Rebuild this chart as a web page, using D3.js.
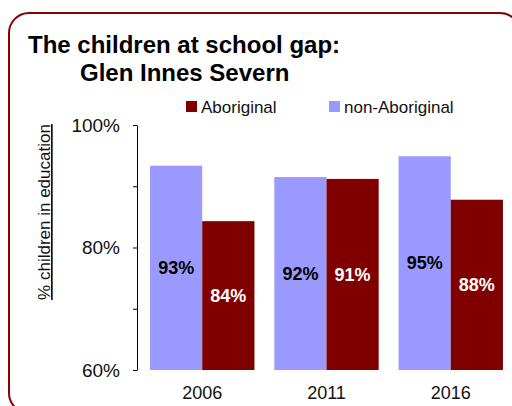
<!DOCTYPE html>
<html>
<head>
<meta charset="utf-8">
<script src="https://cdn.jsdelivr.net/npm/d3@7"></script>
<style>
  body { margin: 0; background: #fff; }
  svg { display: block; font-family: "Liberation Sans", Arial, sans-serif; }
</style>
</head>
<body>
<script>
// data
var years = ["2006", "2011", "2016"];
var groups = ["non-Aboriginal", "Aboriginal"];
var nonAboriginal = [93.35, 91.5, 94.9];
var aboriginal = [84.3, 91.2, 87.8];
var shownLabels = {
  "non-Aboriginal": ["93%", "92%", "95%"],
  "Aboriginal": ["84%", "91%", "88%"]
};
var yTicks = [60, 70, 80, 90, 100];

var colors = { "non-Aboriginal": "#9999ff", "Aboriginal": "#800000" };
var labelColors = { "non-Aboriginal": "#000", "Aboriginal": "#fff" };

var width = 512, height = 406;

var svg = d3.select("body").append("svg")
    .attr("width", width)
    .attr("height", height);

// frame
svg.append("rect")
    .attr("x", 9).attr("y", 13)
    .attr("width", 511).attr("height", 400)
    .attr("rx", 20).attr("ry", 20)
    .attr("fill", "none")
    .attr("stroke", "#8b0000")
    .attr("stroke-width", 2);

// title
svg.append("text")
    .attr("x", 28).attr("y", 53)
    .style("font-size", "24px").style("font-weight", "bold")
    .text("The children at school gap:");
svg.append("text")
    .attr("x", 80).attr("y", 81)
    .style("font-size", "24px").style("font-weight", "bold")
    .text("Glen Innes Severn");

// scales
var y = d3.scaleLinear().domain([60, 100]).range([370, 125]);
var x0 = d3.scaleBand().domain(years).range([137, 516])
    .paddingInner(0.16).paddingOuter(0.105);
var x1 = d3.scaleBand().domain(groups).range([0, x0.bandwidth()]);

var rows = years.map(function(yr, i) {
  return { year: yr, values: [
    { key: "non-Aboriginal", value: nonAboriginal[i], label: shownLabels["non-Aboriginal"][i] },
    { key: "Aboriginal", value: aboriginal[i], label: shownLabels["Aboriginal"][i] }
  ]};
});

var g = svg.selectAll(".year")
    .data(rows)
  .enter().append("g")
    .attr("class", "year")
    .attr("transform", function(d) { return "translate(" + x0(d.year) + ",0)"; });

g.selectAll("rect")
    .data(function(d) { return d.values; })
  .enter().append("rect")
    .attr("x", function(d) { return x1(d.key); })
    .attr("y", function(d) { return y(d.value); })
    .attr("width", x1.bandwidth())
    .attr("height", function(d) { return y(60) - y(d.value); })
    .attr("fill", function(d) { return colors[d.key]; });

g.selectAll("text.val")
    .data(function(d) { return d.values; })
  .enter().append("text")
    .attr("class", "val")
    .attr("x", function(d) { return x1(d.key) + x1.bandwidth() / 2; })
    .attr("y", function(d) { return (y(d.value) + y(60)) / 2; })
    .attr("dy", "0.35em")
    .attr("text-anchor", "middle")
    .style("font-size", "18px").style("font-weight", "bold")
    .attr("fill", function(d) { return labelColors[d.key]; })
    .text(function(d) { return d.label; });

// y axis
var yAxis = svg.append("g")
    .attr("transform", "translate(137,0)")
    .call(d3.axisLeft(y).tickValues(yTicks).tickSize(4).tickSizeOuter(0)
      .tickFormat(function(d) { return d % 20 === 0 ? d + "%" : ""; }));
yAxis.select(".domain").attr("stroke", "#000");
yAxis.selectAll("text")
    .attr("x", -17)
    .style("font-size", "19px")
    .style("font-family", "Liberation Sans, Arial, sans-serif")
    .attr("fill", "#111");

// x labels
svg.selectAll(".xlab")
    .data(years)
  .enter().append("text")
    .attr("class", "xlab")
    .attr("x", function(d) { return x0(d) + x0.bandwidth() / 2; })
    .attr("y", 399)
    .attr("text-anchor", "middle")
    .style("font-size", "18px")
    .attr("fill", "#111")
    .text(function(d) { return d; });

// y axis title
svg.append("text")
    .attr("transform", "translate(50,212) rotate(-90)")
    .attr("text-anchor", "middle")
    .style("font-size", "17px")
    .style("text-decoration", "underline")
    .attr("fill", "#111")
    .text("% children in education");

// legend
var legendItems = [
  { key: "Aboriginal", x: 186 },
  { key: "non-Aboriginal", x: 329 }
];
var lg = svg.selectAll(".legend")
    .data(legendItems)
  .enter().append("g")
    .attr("class", "legend")
    .attr("transform", function(d) { return "translate(" + d.x + ",101)"; });
lg.append("rect")
    .attr("width", 11).attr("height", 11)
    .attr("fill", function(d) { return colors[d.key]; });
lg.append("text")
    .attr("x", 15).attr("y", 11.5)
    .style("font-size", "17px")
    .attr("fill", "#111")
    .text(function(d) { return d.key; });
</script>
</body>
</html>
